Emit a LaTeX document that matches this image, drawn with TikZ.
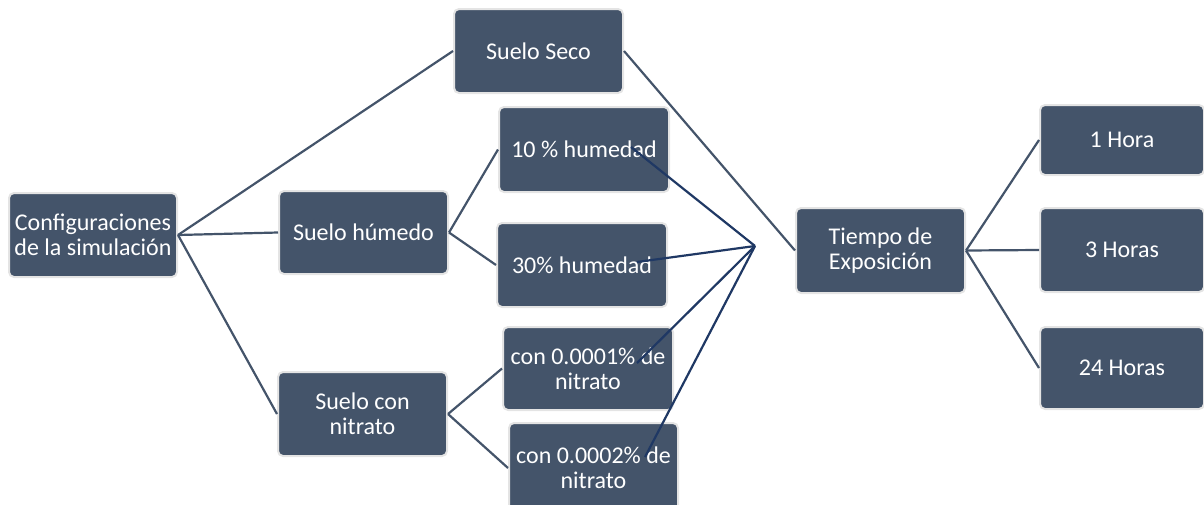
\documentclass[tikz,border=0pt]{standalone}
\usepackage{fontspec}
\setmainfont{Carlito}
\definecolor{boxfill}{HTML}{44546A}
\definecolor{boxedge}{HTML}{E4E4E4}
\definecolor{treeline}{HTML}{44546A}
\definecolor{navyline}{HTML}{1F3864}
\begin{document}
\begin{tikzpicture}[x=1pt,y=-1pt,
  box/.style={rectangle, rounded corners=5pt, fill=boxfill, draw=boxedge, line width=2pt,
    text=white, align=center, inner sep=2pt,
    font=\fontsize{24}{25}\selectfont},
  tree/.style={draw=treeline, line width=2.2pt},
  hubline/.style={draw=navyline, line width=2.2pt}]
\useasboundingbox (0,0) rectangle (1204,504);
% nodes
\node[box, minimum width=168pt, minimum height=84pt] (cfg) at (93,235) {Configuraciones\\de la simulación};
\node[box, minimum width=169pt, minimum height=84pt] (seco) at (538.5,51) {Suelo Seco};
\node[box, minimum width=169pt, minimum height=83pt] (hum) at (363.5,232.5) {Suelo húmedo};
\node[box, minimum width=169pt, minimum height=84pt] (nit) at (362.5,414) {Suelo con\\nitrato};
\node[box, minimum width=170pt, minimum height=85pt] (h10) at (584,149.5) {10 \% humedad};
\node[box, minimum width=170pt, minimum height=84pt] (h30) at (582,265) {30\% humedad};
\node[box, minimum width=170pt, minimum height=83pt] (n1) at (588,368.5) {con 0.0001\% de\\nitrato};
\node[box, minimum width=169pt, minimum height=90pt] (n2) at (593.5,468) {con 0.0002\% de\\nitrato};
\node[box, minimum width=169pt, minimum height=85pt] (tiempo) at (880.5,250.5) {Tiempo de\\Exposición};
\node[box, minimum width=164pt, minimum height=70pt] (h1) at (1122,140) {1 Hora};
\node[box, minimum width=164pt, minimum height=84pt] (h3) at (1122,250) {3 Horas};
\node[box, minimum width=164pt, minimum height=82pt] (h24) at (1122,368) {24 Horas};
% tree connectors
\draw[tree] (cfg.east) -- (seco.west);
\draw[tree] (cfg.east) -- (hum.west);
\draw[tree] (cfg.east) -- (nit.west);
\draw[tree] (hum.east) -- (h10.west);
\draw[tree] (hum.east) -- (h30.west);
\draw[tree] (nit.east) -- (n1.west);
\draw[tree] (nit.east) -- (n2.west);
\draw[tree] (seco.east) -- (tiempo.west);
\draw[tree] (tiempo.east) -- (h1.west);
\draw[tree] (tiempo.east) -- (h3.west);
\draw[tree] (tiempo.east) -- (h24.west);
% navy lines to the hub
\coordinate (hub) at (755,246);
\coordinate (p10) at (631,147);
\coordinate (p30) at (637,262);
\coordinate (pn1) at (637,363);
\coordinate (pn2) at (645,457);
\draw[hubline] (p10) -- (hub);
\draw[hubline] (p30) -- (hub);
\draw[hubline] (pn1) -- (hub);
\draw[hubline] (pn2) -- (hub);
\end{tikzpicture}
\end{document}
